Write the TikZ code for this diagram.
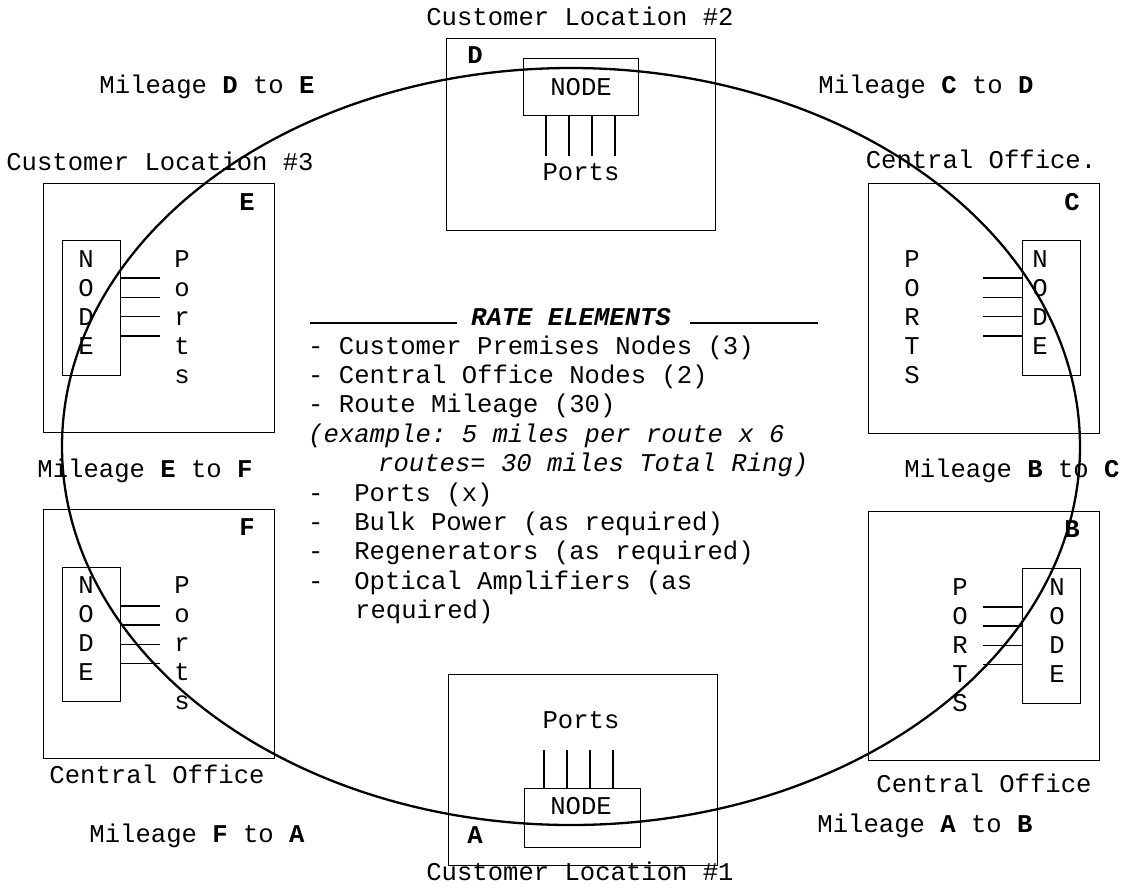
\documentclass[tikz,border=0pt]{standalone}
\usepackage{fontspec}
\setmonofont{Liberation Mono}
\usetikzlibrary{positioning, calc}

\tikzset{
    lbl/.style={font=\ttfamily\fontsize{25.6}{29}\selectfont, inner sep=0pt},
    sitebox/.style={draw, rectangle, line width=1.4pt, anchor=north west, inner sep=0pt},
    nodebox/.style={draw, rectangle, line width=1.4pt, anchor=north west, inner sep=0pt},
    portline/.style={line width=1.4pt},
    rateline/.style={lbl, text height=21pt, text depth=8pt, anchor=north west}
}

\begin{document}
\begin{tikzpicture}[x=1pt, y=-1pt]

    \useasboundingbox (0,0) rectangle (1127,895);

    % site boxes
    \node[sitebox, minimum width=269pt, minimum height=192pt] (siteD) at (446,38) {};
    \node[sitebox, minimum width=231pt, minimum height=249pt] (siteE) at (43,183) {};
    \node[sitebox, minimum width=231pt, minimum height=250pt] (siteC) at (868,183) {};
    \node[sitebox, minimum width=231pt, minimum height=249pt] (siteF) at (43,509) {};
    \node[sitebox, minimum width=231pt, minimum height=249pt] (siteB) at (868,511) {};
    \node[sitebox, minimum width=269pt, minimum height=191pt] (siteA) at (448,674) {};

    % node boxes
    \node[nodebox, minimum width=115pt, minimum height=57pt] (nodeD) at (523,58) {};
    \node[nodebox, minimum width=58pt, minimum height=135pt] (nodeE) at (62,240) {};
    \node[nodebox, minimum width=58pt, minimum height=135pt] (nodeC) at (1022,240) {};
    \node[nodebox, minimum width=58pt, minimum height=134pt] (nodeF) at (62,567) {};
    \node[nodebox, minimum width=58pt, minimum height=135pt] (nodeB) at (1022,568) {};
    \node[nodebox, minimum width=116pt, minimum height=59pt] (nodeA) at (524,788) {};

    % ports
    \foreach \i in {0,...,3} {
        \draw[portline] ($(nodeD.south west)+(23+23*\i,0)$) -- ++(0,40);
        \draw[portline] ($(nodeA.north west)+(20+23*\i,0)$) -- ++(0,-38);
        \draw[portline] ($(nodeE.north east)+(0,38+19.3*\i)$) -- ++(39,0);
        \draw[portline] ($(nodeF.north east)+(0,39+19.1*\i)$) -- ++(39,0);
        \draw[portline] ($(nodeC.north west)+(0,38+19.3*\i)$) -- ++(-39,0);
        \draw[portline] ($(nodeB.north west)+(0,39+19.1*\i)$) -- ++(-39,0);
    }

    % texts in boxes
    \node[lbl, anchor=base] (txtD) at (581,95) {NODE};
    \node[lbl, anchor=base] (portsD) at (581,180) {Ports};
    \node[lbl, anchor=base] (portsA) at (581,728) {Ports};
    \node[lbl, anchor=base] (txtA) at (581,814) {NODE};
    \foreach \c [count=\i from 0] in {N,O,D,E} {
        \node[lbl, anchor=base] (txtE\i) at (86,267+29*\i) {\c};
        \node[lbl, anchor=base] (txtC\i) at (1040,267+29*\i) {\c};
        \node[lbl, anchor=base] (txtF\i) at (86,593+29*\i) {\c};
        \node[lbl, anchor=base] (txtB\i) at (1057,595+29*\i) {\c};
    }
    \foreach \c [count=\i from 0] in {P,o,r,t,s} {
        \node[lbl, anchor=base] (portsE\i) at (182,267+29*\i) {\c};
        \node[lbl, anchor=base] (portsF\i) at (182,593+29*\i) {\c};
    }
    \foreach \c [count=\i from 0] in {P,O,R,T,S} {
        \node[lbl, anchor=base] (portsC\i) at (912,267+29*\i) {\c};
        \node[lbl, anchor=base] (portsB\i) at (960,595+29*\i) {\c};
    }

    % site letters
    \node[lbl, anchor=base] (letD) at (475,63) {\textbf{D}};
    \node[lbl, anchor=base] (letE) at (247,210) {\textbf{E}};
    \node[lbl, anchor=base] (letC) at (1072,210) {\textbf{C}};
    \node[lbl, anchor=base] (letF) at (247,535) {\textbf{F}};
    \node[lbl, anchor=base] (letB) at (1072,537) {\textbf{B}};
    \node[lbl, anchor=base] (letA) at (475,843) {\textbf{A}};

    % location names
    \node[lbl, anchor=base] (locD) at (580,25) {Customer Location \#2};
    \node[lbl, anchor=base] (locE) at (160,170) {Customer Location \#3};
    \node[lbl, anchor=base] (locC) at (981,168) {Central Office.};
    \node[lbl, anchor=base] (locF) at (157,783) {Central Office};
    \node[lbl, anchor=base] (locB) at (984,792) {Central Office};
    \node[lbl, anchor=base] (locA) at (580,880) {Customer Location \#1};

    % mileage
    \node[lbl, anchor=base] (milDE) at (207,93) {Mileage \textbf{D} to \textbf{E}};
    \node[lbl, anchor=base] (milCD) at (926,93) {Mileage \textbf{C} to \textbf{D}};
    \node[lbl, anchor=base] (milEF) at (145,477) {Mileage \textbf{E} to \textbf{F}};
    \node[lbl, anchor=base] (milBC) at (1012,477) {Mileage \textbf{B} to \textbf{C}};
    \node[lbl, anchor=base] (milFA) at (197,842) {Mileage \textbf{F} to \textbf{A}};
    \node[lbl, anchor=base] (milAB) at (925,832) {Mileage \textbf{A} to \textbf{B}};

    % rate elements
    \node[lbl, anchor=base] (rate) at (571,325) {\textbf{\textit{RATE ELEMENTS}}};
    \draw[line width=1.4pt] (rate.mid west) ++(-14,0) -- ++(-147,0);
    \draw[line width=1.4pt] (rate.mid east) ++(19,0) -- ++(128,0);

    \node[rateline, anchor=base west] (r1) at (308,354) {- Customer Premises Nodes (3)};
    \node[rateline, below=0pt of r1.south west, anchor=north west] (r2) {- Central Office Nodes (2)};
    \node[rateline, below=0pt of r2.south west, anchor=north west] (r3) {- Route Mileage (30)};
    \node[rateline, below=0pt of r3.south west, anchor=north west] (r4) {\textit{(example: 5 miles per route x 6}};
    \node[rateline, below=0pt of r4.south west, anchor=north west] (r5) {\hspace*{70pt}\textit{routes= 30 miles Total Ring)}};
    \node[rateline, below=0pt of r5.south west, anchor=north west] (r6) {-\ \ Ports (x)};
    \node[rateline, below=0pt of r6.south west, anchor=north west] (r7) {-\ \ Bulk Power (as required)};
    \node[rateline, below=0pt of r7.south west, anchor=north west] (r8) {-\ \ Regenerators (as required)};
    \node[rateline, below=0pt of r8.south west, anchor=north west] (r9) {-\ \ Optical Amplifiers (as};
    \node[rateline, below=0pt of r9.south west, anchor=north west] (r10) {\hspace*{47pt}required)};

    % ring
    \draw[line width=2.3pt] (571,446.5) ellipse [x radius=509pt, y radius=378.5pt];

\end{tikzpicture}
\end{document}
